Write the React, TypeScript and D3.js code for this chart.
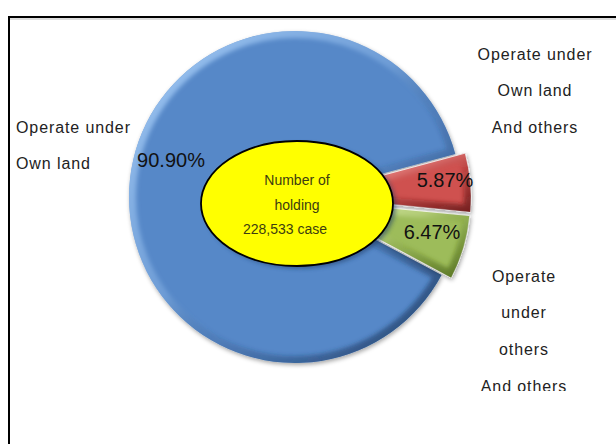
import React from "react";
import * as d3 from "d3";

// ---- data ----
const categories = [
  "Operate under Own land",
  "Operate under Own land And others",
  "Operate under others And others",
];
const values = [90.9, 5.87, 6.47];
const percentLabels = ["90.90%", "5.87%", "6.47%"];
const categoryLines = [
  ["Operate under", "Own land"],
  ["Operate under", "Own land", "And others"],
  ["Operate", "under", "others", "And others"],
];
const centerLines = ["Number of", "holding", "228,533 case"];

// ---- layout ----
const W = 616;
const H = 444;
const cx = 295;
const cy = 197;
const R = 166;
const EXPLODE = [0, 10, 10];
const START = (-242 * Math.PI) / 180;
const palette = [
  { base: "#5688C8", light: "#a6cdf7", dark: "#1d3a63" },
  { base: "#CF5150", light: "#f8b8b6", dark: "#6a1818" },
  { base: "#9DBC5A", light: "#e3f2b8", dark: "#4f6a1a" },
];
const percentPos = [
  [171, 160],
  [445, 180],
  [432, 232],
];
const labelBlocks = [
  { x: 16, y: 127, anchor: "start" },
  { x: 535, y: 54, anchor: "middle" },
  { x: 524, y: 276, anchor: "middle" },
];
const LINE_GAP = 36.8;
const centerPos = [
  [297, 180],
  [297, 205],
  [285, 229],
];

export default function App() {
  const pie = d3
    .pie<number>()
    .sort(null)
    .value((d) => d)
    .startAngle(START)
    .endAngle(START + 2 * Math.PI);
  const arcs = pie(values);
  const arc = d3.arc<d3.PieArcDatum<number>>().innerRadius(0).outerRadius(R);

  const labelFont = "'Liberation Sans', Arial, sans-serif";

  return (
    <svg
      width={W}
      height={H}
      viewBox={`0 0 ${W} ${H}`}
      style={{ position: "fixed", left: 0, top: 0, display: "block", background: "#fff" }}
    >
      <defs>
        <filter id="shadow" x="-20%" y="-20%" width="140%" height="140%">
          <feDropShadow dx="1" dy="2" stdDeviation="2" floodColor="#000" floodOpacity="0.35" />
        </filter>
        <filter id="blur2" x="-20%" y="-20%" width="140%" height="140%">
          <feGaussianBlur stdDeviation="2" />
        </filter>
        {arcs.map((a, i) => (
          <linearGradient key={"g" + i} id={"bevel" + i} x1="0" y1="0" x2="1" y2="1">
            <stop offset="0" stopColor={palette[i].light} stopOpacity="0.95" />
            <stop offset="0.45" stopColor={palette[i].light} stopOpacity="0.3" />
            <stop offset="0.6" stopColor={palette[i].dark} stopOpacity="0.15" />
            <stop offset="1" stopColor={palette[i].dark} stopOpacity="0.9" />
          </linearGradient>
        ))}
        {arcs.map((a, i) => (
          <clipPath key={"c" + i} id={"clip" + i}>
            <path d={arc(a) || ""} />
          </clipPath>
        ))}
        <clipPath id="clipLabels">
          <rect x={0} y={0} width={W} height={391} />
        </clipPath>
      </defs>

      {/* frame */}
      <path d={`M9,${H} V17 H${W}`} fill="none" stroke="#000" strokeWidth={2} />
      <line x1={10} y1={19} x2={W} y2={19} stroke="#bbb" strokeWidth={1} />

      {/* pie slices */}
      {arcs.map((a, i) => {
        const mid = (a.startAngle + a.endAngle) / 2;
        const dx = Math.sin(mid) * EXPLODE[i];
        const dy = -Math.cos(mid) * EXPLODE[i];
        const d = arc(a) || "";
        return (
          <g key={"s" + i} transform={`translate(${cx + dx},${cy + dy})`}>
            <g filter="url(#shadow)">
              <path d={d} fill={palette[i].base} stroke="#f2f2f2" strokeWidth={i === 0 ? 0 : 1} />
            </g>
            <g clipPath={`url(#clip${i})`}>
              <path d={d} fill="none" stroke={`url(#bevel${i})`} strokeWidth={14} filter="url(#blur2)" />
            </g>
          </g>
        );
      })}

      {/* center ellipse */}
      <ellipse cx={300} cy={206} rx={96} ry={62.5} fill="#1f3b66" opacity={0.55} filter="url(#blur2)" />
      <ellipse cx={297} cy={203.5} rx={96} ry={62.5} fill="#FFFF00" stroke="#000" strokeWidth={1.8} />
      {centerLines.map((t, i) => (
        <text
          key={"cl" + i}
          x={centerPos[i][0]}
          y={centerPos[i][1]}
          textAnchor="middle"
          dominantBaseline="central"
          fontFamily={labelFont}
          fontSize={14}
          fill="#3d3d10"
        >
          {t}
        </text>
      ))}

      {/* percent labels */}
      {percentLabels.map((t, i) => (
        <text
          key={"p" + i}
          x={percentPos[i][0]}
          y={percentPos[i][1]}
          textAnchor="middle"
          dominantBaseline="central"
          fontFamily={labelFont}
          fontSize={20}
          fill="#111"
        >
          {t}
        </text>
      ))}

      {/* category labels */}
      {categoryLines.map((lines, i) => (
        <g key={"cat" + i} clipPath={i === 2 ? "url(#clipLabels)" : undefined}>
          <title>{categories[i]}</title>
          {lines.map((t, j) => (
            <text
              key={j}
              x={labelBlocks[i].x}
              y={labelBlocks[i].y + j * LINE_GAP}
              textAnchor={labelBlocks[i].anchor as any}
              dominantBaseline="central"
              fontFamily={labelFont}
              fontSize={16}
              letterSpacing={0.9}
              fill="#222"
            >
              {t}
            </text>
          ))}
        </g>
      ))}
    </svg>
  );
}
